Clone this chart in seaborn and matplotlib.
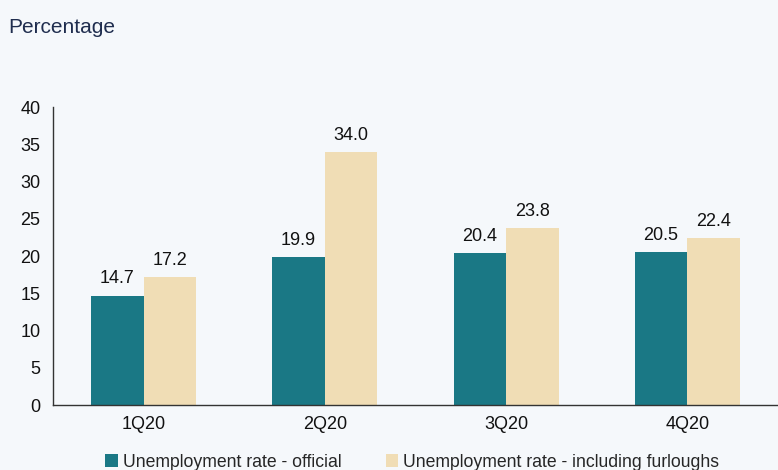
import matplotlib
matplotlib.use("Agg")
import matplotlib.pyplot as plt
import seaborn as sns
import pandas as pd
from matplotlib.ticker import FixedLocator

# Chart data
quarters = ["1Q20", "2Q20", "3Q20", "4Q20"]
official = [14.7, 19.9, 20.4, 20.5]
with_furloughs = [17.2, 34.0, 23.8, 22.4]
series_names = ["Unemployment rate - official",
                "Unemployment rate - including furloughs"]
y_ticks = [0, 5, 10, 15, 20, 25, 30, 35, 40]

df = pd.DataFrame({
    "quarter": quarters * 2,
    "value": official + with_furloughs,
    "series": [series_names[0]] * len(quarters) + [series_names[1]] * len(quarters),
})

bg = "#F5F8FB"
palette = {series_names[0]: "#1A7885", series_names[1]: "#F0DDB5"}

sns.set_style("white")
plt.rcParams["font.family"] = ["Liberation Sans", "DejaVu Sans"]

fig = plt.figure(figsize=(7.78, 4.70), dpi=100, facecolor=bg)
ax = fig.add_axes([0.068, 0.138, 0.932, 0.634], facecolor=bg)

sns.barplot(data=df, x="quarter", y="value", hue="series", palette=palette,
            width=0.58, saturation=1, linewidth=0, ax=ax, legend=True)

for cont in ax.containers:
    ax.bar_label(cont, fmt="%.1f", padding=6, fontsize=13, color="#111111")

ax.set_ylim(0, 40)
ax.set_xlim(-0.5, 3.5)
ax.set_yticks(y_ticks)
ax.set_xlabel("")
ax.set_ylabel("")
ax.tick_params(axis="y", direction="out", length=5, width=1, color="#333333",
               labelsize=13, labelcolor="#111111", pad=4)
ax.tick_params(axis="x", which="major", length=0, labelsize=13,
               labelcolor="#111111", pad=8)
ax.xaxis.set_minor_locator(FixedLocator([-0.5, 0.5, 1.5, 2.5]))
ax.tick_params(axis="x", which="minor", direction="out", length=5, width=1,
               color="#333333")

for side in ["top", "right"]:
    ax.spines[side].set_visible(False)
for side in ["left", "bottom"]:
    ax.spines[side].set_color("#333333")
    ax.spines[side].set_linewidth(1)

handles, labels = ax.get_legend_handles_labels()
ax.get_legend().remove()
fig.legend(handles, labels, loc="lower center", bbox_to_anchor=(0.53, -0.035),
           ncol=2, frameon=False, fontsize=12.7, handlelength=0.7,
           handleheight=0.7, handletextpad=0.3, columnspacing=2.5)

fig.text(0.010, 0.942, "Percentage", fontsize=15, color="#1F2D4E",
         ha="left", va="center")

fig.savefig("out.png", dpi=100, facecolor=bg)
